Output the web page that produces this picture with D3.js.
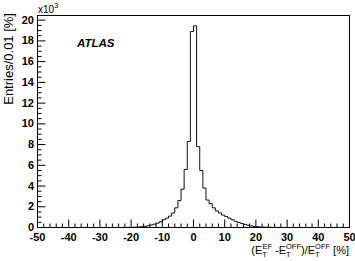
<!DOCTYPE html>
<html>
<head>
<meta charset="utf-8">
<script src="https://cdn.jsdelivr.net/npm/d3@7"></script>
<style>
  body { margin: 0; background: #fff; }
  text { font-family: "Liberation Sans", Arial, sans-serif; }
</style>
</head>
<body>
<svg id="imagen" width="355" height="261"></svg>
<script>
// bin left edges, width 1 (%), -50 .. 49
const binEdges = d3.range(-50, 50, 1);
// entries per bin in units of 10^3
const leftTail = [ // bins -50 .. -21
  0, 0, 0, 0, 0, 0, 0, 0, 0, 0,
  0, 0, 0, 0, 0, 0, 0, 0, 0, 0,
  0, 0, 0, 0, 0, 0.005, 0.007, 0.01, 0.012, 0.015
];
const core = [ // bins -20 .. 19
  0.02, 0.03, 0.05, 0.08, 0.12, 0.17, 0.24, 0.32, 0.42, 0.55,
  0.75, 0.9, 1.1, 1.4, 1.9, 2.6, 3.7, 5.6, 8.3, 18.9,
  19.45, 7.8, 5.5, 3.8, 2.65, 2.3, 1.9, 1.6, 1.4, 1.2,
  1.05, 0.9, 0.75, 0.6, 0.48, 0.38, 0.3, 0.22, 0.16, 0.11
];
const rightTail = [ // bins 20 .. 49
  0.08, 0.05, 0.035, 0.025, 0.018, 0.012, 0.008, 0.005, 0, 0,
  0, 0, 0, 0, 0, 0, 0, 0, 0, 0,
  0, 0, 0, 0, 0, 0, 0, 0, 0, 0
];
const entries = leftTail.concat(core, rightTail);
const xTicks = [-50, -40, -30, -20, -10, 0, 10, 20, 30, 40, 50];
const yTicks = [0, 2, 4, 6, 8, 10, 12, 14, 16, 18, 20];

const svg = d3.select("#imagen");
const margin = { top: 15.5, right: 5.5, bottom: 33.5, left: 37.5 };
const width = 355, height = 261;

const x = d3.scaleLinear().domain([-50, 50]).range([margin.left, width - margin.right]);
const y = d3.scaleLinear().domain([0, 20.45]).range([height - margin.bottom, margin.top]);

// histogram outline
const pts = [];
binEdges.forEach((e, i) => {
  pts.push([x(e), y(entries[i])]);
  pts.push([x(e + 1), y(entries[i])]);
});
svg.append("path")
  .attr("d", d3.line()(pts))
  .attr("fill", "none")
  .attr("stroke", "#111")
  .attr("stroke-width", 1);

// frame
svg.append("rect")
  .attr("x", margin.left).attr("y", margin.top)
  .attr("width", width - margin.left - margin.right)
  .attr("height", height - margin.top - margin.bottom)
  .attr("fill", "none").attr("stroke", "#000").attr("stroke-width", 1);

// x axis ticks
const gx = svg.append("g");
gx.selectAll("line.minor")
  .data(d3.range(-50, 51, 2))
  .join("line")
  .attr("x1", d => x(d)).attr("x2", d => x(d))
  .attr("y1", y(0)).attr("y2", d => y(0) - (d % 10 === 0 ? 8 : 4))
  .attr("stroke", "#000");
gx.selectAll("text")
  .data(xTicks)
  .join("text")
  .attr("x", d => x(d)).attr("y", 240.5)
  .attr("text-anchor", "middle")
  .attr("font-size", 11).attr("font-weight", "bold")
  .text(d => d);

// y axis ticks
const gy = svg.append("g");
gy.selectAll("line")
  .data(d3.range(0, 20.01, 0.5))
  .join("line")
  .attr("x1", x(-50)).attr("x2", d => x(-50) + (d % 2 === 0 ? 8 : 4))
  .attr("y1", d => y(d)).attr("y2", d => y(d))
  .attr("stroke", "#000");
gy.selectAll("text")
  .data(yTicks)
  .join("text")
  .attr("x", 34).attr("y", d => y(d) + 3.5)
  .attr("text-anchor", "end")
  .attr("font-size", 11).attr("font-weight", "bold")
  .text(d => d);

// x10^3
const ex = svg.append("text").attr("x", 38).attr("y", 13).attr("font-size", 10);
ex.append("tspan").text("x10");
ex.append("tspan").attr("font-size", 7).attr("dy", -5).text("3");

// axis titles
svg.append("text")
  .attr("transform", "translate(13,13) rotate(-90)")
  .attr("text-anchor", "end")
  .attr("font-size", 13)
  .text("Entries/0.01 [%]");

const xt = svg.append("text").attr("x", 349).attr("y", 254)
  .attr("text-anchor", "end").attr("font-size", 11);
const part = (t, dy, fs) => xt.append("tspan").attr("dy", dy).attr("font-size", fs).text(t);
const sup = t => xt.append("tspan").attr("dx", -4.5).attr("dy", -7.5).attr("font-size", 7.5).text(t);
part("(E", 0, 11);
part("T", 2.5, 7.5);
sup("EF");
part(" -E", 5, 11);
part("T", 2.5, 7.5);
sup("OFF");
part(")/E", 5, 11);
part("T", 2.5, 7.5);
sup("OFF");
part(" [%]", 5, 11);

// label
svg.append("text")
  .attr("x", 77).attr("y", 47)
  .attr("font-size", 11.5).attr("font-weight", "bold").attr("font-style", "italic")
  .text("ATLAS");
</script>
</body>
</html>
